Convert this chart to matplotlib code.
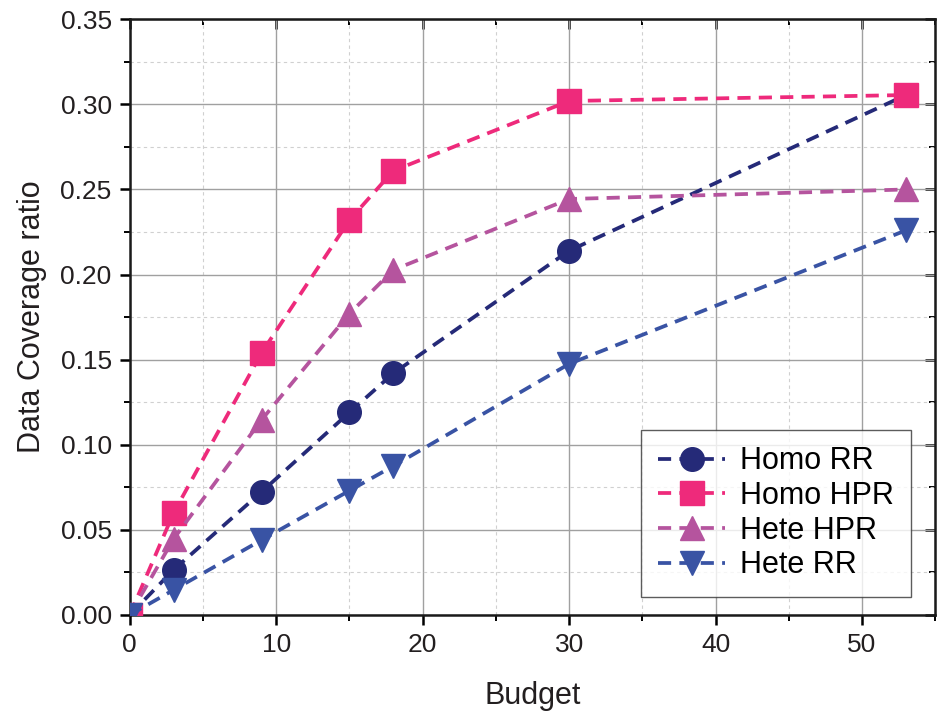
import matplotlib.pyplot as plt
from matplotlib.ticker import MultipleLocator

plt.rcParams['font.family'] = ['Liberation Sans', 'DejaVu Sans']

budget = [0, 3, 9, 15, 18, 30, 53]
homo_rr = [0, 0.0265, 0.0723, 0.119, 0.142, 0.214, 0.3055]
homo_hpr = [0, 0.060, 0.154, 0.232, 0.261, 0.302, 0.3055]
hete_hpr = [0, 0.0447, 0.1146, 0.177, 0.2027, 0.2444, 0.250]
hete_rr = [0, 0.0147, 0.044, 0.073, 0.0875, 0.1475, 0.226]

series = [
    ("Homo RR", homo_rr, "#252a78", "o"),
    ("Homo HPR", homo_hpr, "#ee2a7b", "s"),
    ("Hete HPR", hete_hpr, "#b5549e", "^"),
    ("Hete RR", hete_rr, "#3953a4", "v"),
]

fig = plt.figure(figsize=(9.4, 7.15), dpi=100)
ax = fig.add_axes([0.138, 0.14, 0.857, 0.833])

for name, vals, color, marker in series:
    ax.plot(budget, vals, linestyle=(0, (3.5, 2.2)), linewidth=2.7, color=color,
            marker=marker, markersize=17, label=name, zorder=3)

ax.set_xlim(0, 55)
ax.set_ylim(0, 0.35)
ax.xaxis.set_major_locator(MultipleLocator(10))
ax.xaxis.set_minor_locator(MultipleLocator(5))
ax.yaxis.set_major_locator(MultipleLocator(0.05))
ax.yaxis.set_minor_locator(MultipleLocator(0.025))
ax.yaxis.set_major_formatter(plt.FormatStrFormatter('%.2f'))

ax.grid(which='major', color='#a0a0a0', linewidth=1.0, linestyle='-')
ax.grid(which='minor', color='#d0d0d0', linewidth=0.8, linestyle=(0, (3, 3)))
ax.set_axisbelow(True)

for s in ax.spines.values():
    s.set_linewidth(1.8)
    s.set_color('#1a1a1a')

ax.tick_params(which='major', direction='out', length=7, width=1.8, labelsize=19,
               labelcolor='#231f20', pad=6, top=False, right=False)
ax.tick_params(which='minor', direction='out', length=4, width=1.4,
               top=False, right=False)
ax2 = ax.secondary_xaxis('top')
ax2.xaxis.set_major_locator(MultipleLocator(10))
ax2.xaxis.set_minor_locator(MultipleLocator(5))
ax2.tick_params(which='major', direction='in', length=7, width=1.8, labeltop=False)
ax2.tick_params(which='minor', direction='in', length=4, width=1.4)
ax3 = ax.secondary_yaxis('right')
ax3.yaxis.set_major_locator(MultipleLocator(0.05))
ax3.yaxis.set_minor_locator(MultipleLocator(0.025))
ax3.tick_params(which='major', direction='in', length=7, width=1.8, labelright=False)
ax3.tick_params(which='minor', direction='in', length=4, width=1.4)

ax.set_xlabel('Budget', fontsize=22, labelpad=17, color='#231f20')
ax.set_ylabel('Data Coverage ratio', fontsize=22, labelpad=10, color='#231f20')

leg = ax.legend(loc='lower right', bbox_to_anchor=(0.97, 0.03), borderaxespad=0,
                fontsize=22, frameon=True, fancybox=False, edgecolor='#333333',
                handlelength=2.2, labelspacing=0.15, borderpad=0.55,
                handletextpad=0.5)
leg.get_frame().set_linewidth(1.0)

fig.savefig('out.png', dpi=100)
